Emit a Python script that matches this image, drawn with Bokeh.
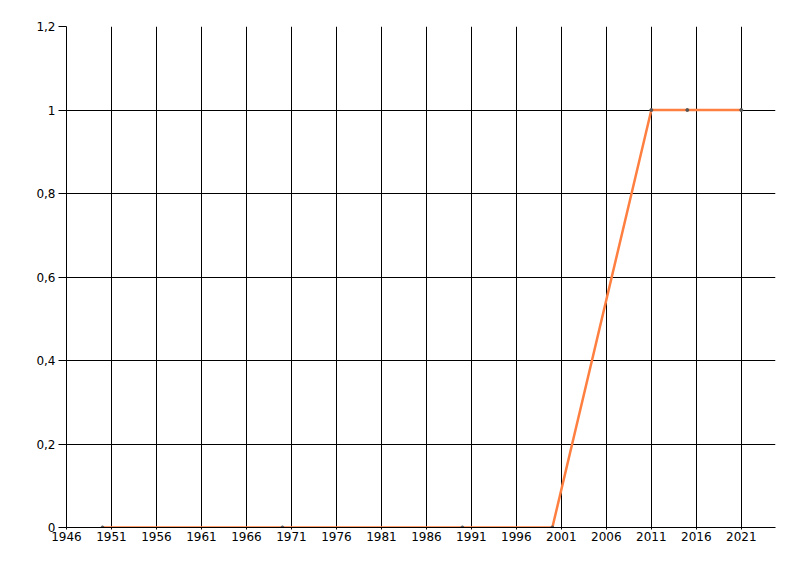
from bokeh.plotting import figure
from bokeh.models import FixedTicker, Range1d
from bokeh.embed import file_html
from bokeh.resources import INLINE

years = [1950, 1970, 1990, 2000, 2011, 2015, 2021]
values = [0, 0, 0, 0, 1, 1, 1]
x_ticks = [1946, 1951, 1956, 1961, 1966, 1971, 1976, 1981, 1986, 1991, 1996, 2001, 2006, 2011, 2016, 2021]
y_ticks = [0, 0.2, 0.4, 0.6, 0.8, 1.0, 1.2]
y_labels = ["0", "0,2", "0,4", "0,6", "0,8", "1", "1,2"]

p = figure(width=792, height=568, output_backend="svg", toolbar_location=None,
           x_range=Range1d(1946, 2024.8), y_range=Range1d(0, 1.2),
           min_border_left=66, min_border_top=26, min_border_right=17, min_border_bottom=41)
p.outline_line_color = None
p.background_fill_color = "white"
p.border_fill_color = "white"

for ax in (p.xaxis[0], p.yaxis[0]):
    ax.axis_line_color = "black"
    ax.major_tick_line_color = "black"
    ax.minor_tick_line_color = None
    ax.major_label_text_font = "DejaVu Sans"
    ax.major_label_text_font_size = "12px"
    ax.major_label_text_color = "black"

p.xaxis.ticker = FixedTicker(ticks=x_ticks)
p.xaxis.major_tick_out = 2
p.xaxis.major_tick_in = 0
p.xaxis.major_label_standoff = 2
p.yaxis.ticker = FixedTicker(ticks=y_ticks)
p.yaxis.major_label_overrides = {v: s for v, s in zip(y_ticks, y_labels)}
p.yaxis.major_tick_out = 8
p.yaxis.major_tick_in = 0
p.yaxis.major_label_standoff = 3

p.xgrid.grid_line_color = "black"
p.ygrid.grid_line_color = "black"
p.xgrid.grid_line_alpha = 1
p.ygrid.grid_line_alpha = 1

p.line(years, values, line_color="#FF7F40", line_width=2.5)
p.scatter(years, values, size=3, color="#555555")

open("out.html", "w").write(file_html(p, INLINE))
